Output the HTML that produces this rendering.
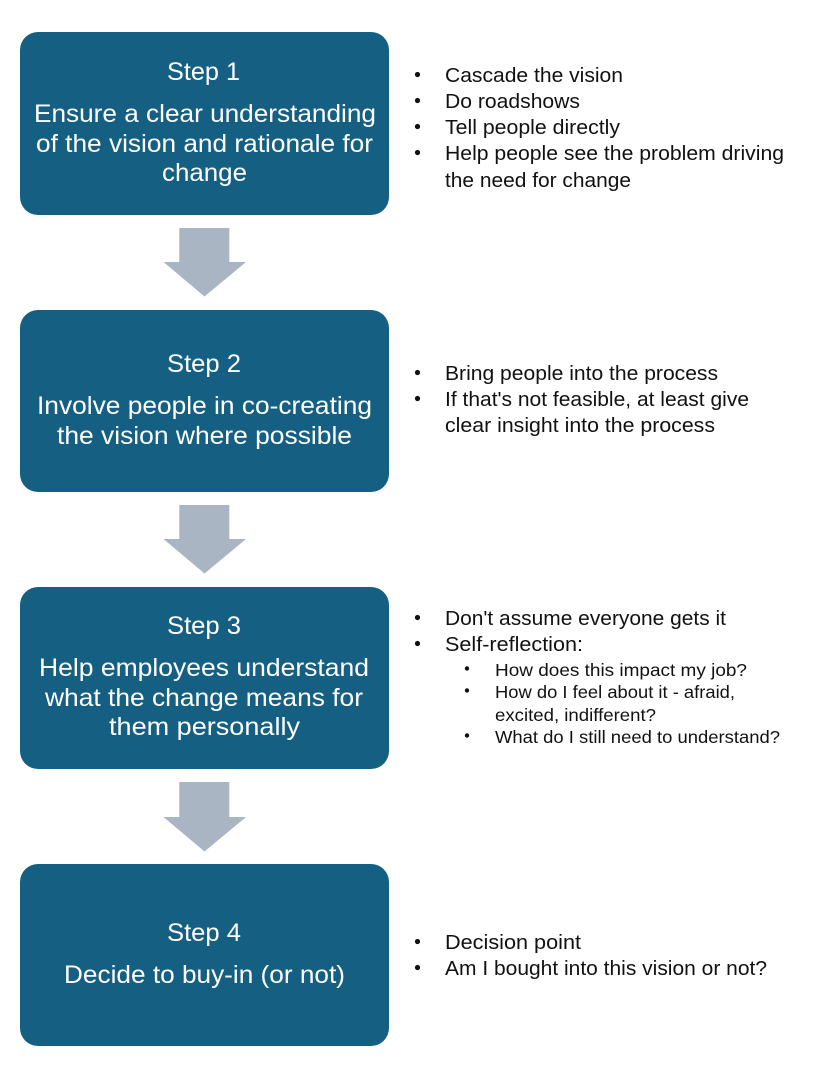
<!DOCTYPE html>
<html><head><meta charset="utf-8"><style>
html,body{margin:0;padding:0;background:#fff}
svg{display:block}
text{font-family:"Liberation Sans",sans-serif}
.w{fill:#fff;font-size:25px}
.k{fill:#111;font-size:20.5px}
.s{fill:#111;font-size:17.5px}
</style></head><body>
<svg width="833" height="1078" viewBox="0 0 833 1078" xmlns="http://www.w3.org/2000/svg">
<rect width="833" height="1078" fill="#fff"/>
<g fill="#156082">
<rect x="20" y="32" width="369" height="183" rx="18"/>
<rect x="20" y="310" width="369" height="182" rx="18"/>
<rect x="20" y="587" width="369" height="182" rx="18"/>
<rect x="20" y="864" width="369" height="182" rx="18"/>
</g>
<g fill="#a9b5c2">
<polygon points="179.300,228 229.300,228 229.300,262 246,262 204.500,296.500 163.500,262 179.300,262"/>
<polygon points="179.300,505 229.300,505 229.300,539 246,539 204.500,573.500 163.500,539 179.300,539"/>
<polygon points="179.300,782 229.300,782 229.300,817 246,817 204.500,851.500 163.500,817 179.300,817"/>
</g>
<g>
<text class="w" x="167" y="80" textLength="73" lengthAdjust="spacingAndGlyphs">Step 1</text>
<text class="w" x="34" y="122" textLength="342" lengthAdjust="spacingAndGlyphs">Ensure a clear understanding</text>
<text class="w" x="36" y="152" textLength="337" lengthAdjust="spacingAndGlyphs">of the vision and rationale for</text>
<text class="w" x="162" y="181" textLength="85" lengthAdjust="spacingAndGlyphs">change</text>
<text class="w" x="167" y="372" textLength="74" lengthAdjust="spacingAndGlyphs">Step 2</text>
<text class="w" x="37" y="414" textLength="335" lengthAdjust="spacingAndGlyphs">Involve people in co-creating</text>
<text class="w" x="57" y="444" textLength="295" lengthAdjust="spacingAndGlyphs">the vision where possible</text>
<text class="w" x="167" y="634" textLength="74" lengthAdjust="spacingAndGlyphs">Step 3</text>
<text class="w" x="39" y="676" textLength="330" lengthAdjust="spacingAndGlyphs">Help employees understand</text>
<text class="w" x="45" y="706" textLength="318" lengthAdjust="spacingAndGlyphs">what the change means for</text>
<text class="w" x="109" y="735" textLength="191" lengthAdjust="spacingAndGlyphs">them personally</text>
<text class="w" x="167" y="941" textLength="74" lengthAdjust="spacingAndGlyphs">Step 4</text>
<text class="w" x="64" y="983" textLength="281" lengthAdjust="spacingAndGlyphs">Decide to buy-in (or not)</text>
</g>
<g fill="#111">
<circle cx="417.500" cy="74.500" r="2.600"/><circle cx="417.500" cy="100.500" r="2.600"/><circle cx="417.500" cy="126.500" r="2.600"/><circle cx="417.500" cy="152.500" r="2.600"/>
<circle cx="417.500" cy="372.500" r="2.600"/><circle cx="417.500" cy="398.500" r="2.600"/>
<circle cx="417.500" cy="617.500" r="2.600"/><circle cx="417.500" cy="643.500" r="2.600"/>
<circle cx="467" cy="668.500" r="2.200"/><circle cx="467" cy="690.500" r="2.200"/><circle cx="467" cy="735.500" r="2.200"/>
<circle cx="417.500" cy="941.500" r="2.600"/><circle cx="417.500" cy="967.500" r="2.600"/>
</g>
<text class="k" x="445" y="82" textLength="178" lengthAdjust="spacingAndGlyphs">Cascade the vision</text>
<text class="k" x="445" y="108" textLength="135" lengthAdjust="spacingAndGlyphs">Do roadshows</text>
<text class="k" x="445" y="134" textLength="175" lengthAdjust="spacingAndGlyphs">Tell people directly</text>
<text class="k" x="445" y="160" textLength="339" lengthAdjust="spacingAndGlyphs">Help people see the problem driving</text>
<text class="k" x="445" y="187" textLength="186" lengthAdjust="spacingAndGlyphs">the need for change</text>
<text class="k" x="445" y="380" textLength="273" lengthAdjust="spacingAndGlyphs">Bring people into the process</text>
<text class="k" x="445" y="406" textLength="304" lengthAdjust="spacingAndGlyphs">If that's not feasible, at least give</text>
<text class="k" x="445" y="432" textLength="270" lengthAdjust="spacingAndGlyphs">clear insight into the process</text>
<text class="k" x="445" y="625" textLength="281" lengthAdjust="spacingAndGlyphs">Don't assume everyone gets it</text>
<text class="k" x="445" y="651" textLength="138" lengthAdjust="spacingAndGlyphs">Self-reflection:</text>
<text class="s" x="495" y="676" textLength="252" lengthAdjust="spacingAndGlyphs">How does this impact my job?</text>
<text class="s" x="495" y="698" textLength="240" lengthAdjust="spacingAndGlyphs">How do I feel about it - afraid,</text>
<text class="s" x="495" y="721" textLength="161" lengthAdjust="spacingAndGlyphs">excited, indifferent?</text>
<text class="s" x="495" y="743" textLength="285" lengthAdjust="spacingAndGlyphs">What do I still need to understand?</text>
<text class="k" x="445" y="949" textLength="136" lengthAdjust="spacingAndGlyphs">Decision point</text>
<text class="k" x="445" y="975" textLength="322" lengthAdjust="spacingAndGlyphs">Am I bought into this vision or not?</text>
</svg>
</body></html>
